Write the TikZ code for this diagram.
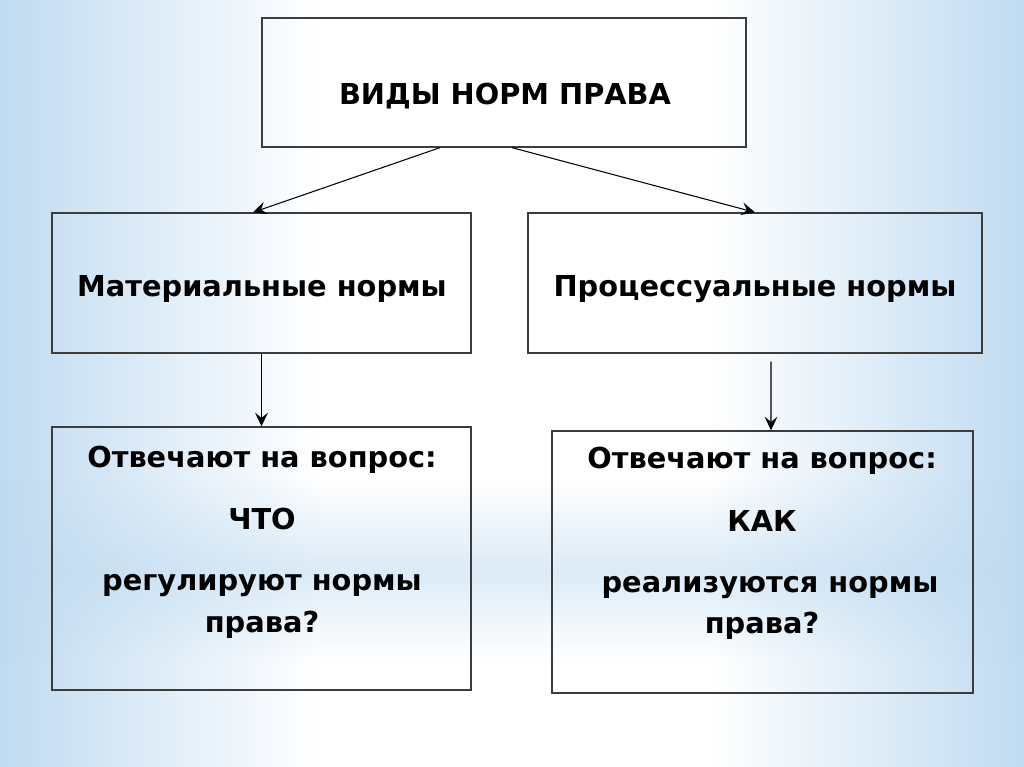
\documentclass[tikz,border=0pt]{standalone}
\usepackage{fontspec}
\setmainfont{DejaVu Sans}
\usetikzlibrary{arrows.meta,fadings}
\definecolor{bgblue}{RGB}{192,219,241}
\definecolor{boxline}{RGB}{60,60,60}
\tikzfading[name=bandfade, top color=transparent!100, bottom color=transparent!100, middle color=transparent!45]
\begin{document}
\begin{tikzpicture}[x=0.025cm,y=-0.025cm,
  box/.style={draw=boxline,line width=0.9pt,rectangle,inner sep=0pt},
  txt/.style={anchor=base,inner sep=0pt,font=\fontsize{20.5}{25}\selectfont\bfseries},
  conn/.style={line width=0.75pt,-{Stealth[length=3.4mm,width=3.2mm,inset=1.3mm]}}]
% background
\useasboundingbox (0,0) rectangle (1024,767);
\fill[white] (0,0) rectangle (1024,767);
\shade[left color=bgblue,right color=white] (0,0) rectangle (320,767);
\shade[left color=white,right color=bgblue] (710,0) rectangle (1024,767);
\fill[bgblue,path fading=bandfade] (0,480) rectangle (1024,660);
% boxes
\node[box,minimum width=12.1cm,minimum height=3.225cm] (top) at (504,82.5) {};
\node[txt] (toptxt) at (505,105) {ВИДЫ НОРМ ПРАВА};
\node[box,minimum width=10.475cm,minimum height=3.5cm] (lm) at (261.5,283) {};
\node[txt] (lmtxt) at (262,296) {Материальные нормы};
\node[box,minimum width=11.35cm,minimum height=3.5cm] (rm) at (755,283) {};
\node[txt] (rmtxt) at (755,296) {Процессуальные нормы};
\node[box,minimum width=10.475cm,minimum height=6.575cm] (lb) at (261.5,558.5) {};
\node[txt] (lb1) at (262,467) {Отвечают на вопрос:};
\node[txt] (lb2) at (262,529) {ЧТО};
\node[txt] (lb3) at (262,590) {регулируют нормы};
\node[txt] (lb4) at (262,632) {права?};
\node[box,minimum width=10.525cm,minimum height=6.55cm] (rb) at (762.5,562) {};
\node[txt] (rb1) at (762,468) {Отвечают на вопрос:};
\node[txt] (rb2) at (762,531) {КАК};
\node[txt] (rb3) at (770,592) {реализуются нормы};
\node[txt] (rb4) at (762,633) {права?};
% connectors
\draw[conn] ([xshift=-1.6cm]top.south) -- ([xshift=-0.2125cm]lm.north);
\draw[conn] ([xshift=0.2cm]top.south) -- ([xshift=0cm]rm.north);
\draw[conn] (lm.south) -- (lb.north);
\draw[conn] ([xshift=0.4cm,yshift=-0.2cm]rm.south) -- ([xshift=0.2125cm]rb.north);
\end{tikzpicture}
\end{document}
